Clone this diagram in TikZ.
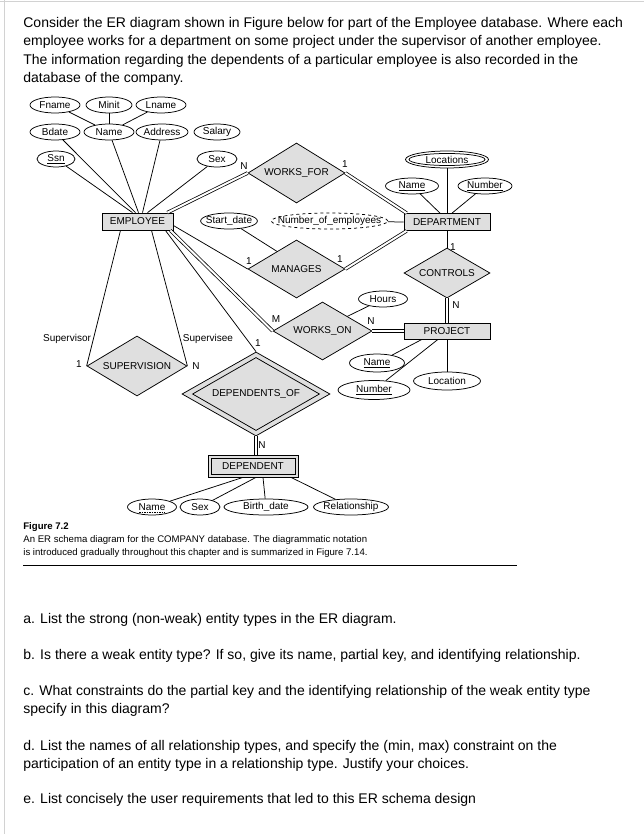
\documentclass[tikz,border=0pt]{standalone}
\usepackage{fontspec}
\setmainfont{Liberation Sans}
\usetikzlibrary{shapes.geometric,calc}
\tikzset{
  dfont/.style={font=\fontsize{10}{11}\selectfont},
  attr/.style={ellipse, draw, fill=white, inner sep=0pt, minimum height=16pt, dfont},
  ent/.style={rectangle, draw, fill=gray!25, inner sep=0pt, minimum height=17pt, dfont},
  rel/.style={diamond, draw, fill=gray!25, inner sep=0pt, aspect=1.7, dfont},
  innerline/.style={draw, inner sep=0pt},
  lbl/.style={inner sep=0pt, dfont},
  dbl/.style={double, double distance=2pt},
  bodytext/.style={anchor=base west, inner sep=0pt, font=\fontsize{14}{16}\selectfont},
  captext/.style={anchor=base west, inner sep=0pt, font=\fontsize{9.6}{11}\selectfont},
}
\begin{document}
\begin{tikzpicture}[x=1pt, y=-1pt, line width=0.75pt]
\useasboundingbox (0,0) rectangle (644,834);
\fill[white] (0,0) rectangle (644,834);
\draw[gray!35, line width=1pt] (0,1.5) -- (644,1.5);
\draw[gray!35, line width=1pt] (4,0) -- (4,834);

% body text
\node[bodytext] (t1) at (23,27.5) {Consider the ER diagram shown in Figure below for part of the Employee database. Where each};
\node[bodytext] (t2) at (23,45.8) {employee works for a department on some project under the supervisor of another employee.};
\node[bodytext] (t3) at (23,64.1) {The information regarding the dependents of a particular employee is also recorded in the};
\node[bodytext] (t4) at (23,82.4) {database of the company.};

% EMPLOYEE attributes
\node[attr, minimum width=50] (fname) at (55,105) {Fname};
\node[attr, minimum width=46] (minit) at (109,105) {Minit};
\node[attr, minimum width=50] (lname) at (161,105) {Lname};
\node[attr, minimum width=50] (bdate) at (55,132) {Bdate};
\node[attr, minimum width=50] (ename) at (109,132) {Name};
\node[attr, minimum width=52, inner xsep=-0.5pt] (addr) at (162,132) {Address};
\node[attr, minimum width=46] (salary) at (217,132) {Salary};
\node[attr, minimum width=38] (ssn) at (56,159) {\underline{Ssn}};
\node[attr, minimum width=40] (sex) at (217,159) {Sex};

\node[ent, minimum width=71] (emp) at (137.5,221.5) {EMPLOYEE};
\node[rel, minimum width=97, minimum height=60] (wf) at (296.5,173) {WORKS\_FOR};
\node[attr, minimum width=56, inner xsep=-3pt] (sdate) at (229,221) {Start\_date};
\node[attr, dashed, minimum width=112, inner xsep=-10.5pt] (noe) at (329.5,221) {Number\_of\_employees};

\node[ent, minimum width=86] (dept) at (447,222) {DEPARTMENT};
\node[attr, minimum width=83, minimum height=17] (locs) at (447,159.5) {Locations};
\node[innerline, ellipse, minimum width=76, minimum height=12] (locsin) at (locs.center) {};
\node[attr, minimum width=53] (dname) at (412,186) {\underline{Name}};
\node[attr, minimum width=54] (dnum) at (485,186) {\underline{Number}};

\node[rel, minimum width=97, minimum height=58] (mgr) at (296.5,269) {MANAGES};
\node[rel, minimum width=86, minimum height=50] (ctrl) at (447,273) {CONTROLS};
\node[ent, minimum width=86, minimum height=16] (proj) at (447,331) {PROJECT};
\node[rel, minimum width=99, minimum height=58] (won) at (322.5,331) {WORKS\_ON};
\node[attr, minimum width=49] (hours) at (383,299) {Hours};
\node[attr, minimum width=55, minimum height=18] (pname) at (377,363) {\underline{Name}};
\node[attr, minimum width=72, minimum height=19] (pnum) at (374,390) {\underline{Number}};
\node[attr, minimum width=67, minimum height=18] (ploc) at (447,381) {Location};

\node[rel, minimum width=100, minimum height=60] (sup) at (137,366) {SUPERVISION};
\node[rel, minimum width=148, minimum height=84] (dof) at (256,394) {DEPENDENTS\_OF};
\draw ([yshift=-6]dof.north) -- ([xshift=-11]dof.east) -- ([yshift=6]dof.south) -- ([xshift=11]dof.west) -- cycle;
\node[ent, minimum width=90, minimum height=22] (dep) at (253,466) {DEPENDENT};
\node[innerline, rectangle, minimum width=84, minimum height=16] (depin) at (dep.center) {};

\node[attr, minimum width=49] (dpname) at (152,507) {Name};
\node[attr, minimum width=40] (dsex) at (200,507) {Sex};
\node[attr, minimum width=84] (dbd) at (266,507) {Birth\_date};
\node[attr, minimum width=75, inner xsep=-1.5pt] (drel) at (351,507) {Relationship};
\draw[line width=0.5pt, dash pattern=on 1.5pt off 1pt] ([xshift=-13,yshift=-5]dpname.center) -- ([xshift=13,yshift=-5]dpname.center);

% composite name
\draw (fname) -- (ename);
\draw (minit) -- (ename);
\draw (lname) -- (ename);
% employee attributes
\draw (ssn) -- ([xshift=-5]emp.north);
\draw (bdate) -- ([xshift=-2]emp.north);
\draw (ename) -- ([xshift=1]emp.north);
\draw (addr) -- ([xshift=5]emp.north);
\draw (sex) -- ([xshift=10]emp.north);

% relationships of EMPLOYEE
\draw[dbl] ([xshift=-6]emp.north east) -- (wf.west);
\draw ([yshift=-4]emp.east) -- (mgr.west);
\draw[dbl] ([xshift=-3]emp.south east) -- (won.west);
\draw ([xshift=-8]emp.south east) -- (dof.north);
\draw ([xshift=-17]emp.south) -- (sup.west);
\draw ([xshift=14]emp.south) -- (sup.east);

% department
\draw[dbl] (wf.east) -- ([xshift=3]dept.north west);
\draw[dbl] (mgr.east) -- ([xshift=3]dept.south west);
\draw (sdate) -- ($(mgr.north)!0.4!(mgr.west)$);
\draw (noe) -- (dept.west);
\draw (locs) -- (dept.north);
\draw (dname) -- ([xshift=-7]dept.north);
\draw (dnum) -- ([xshift=5]dept.north);
\draw (dept.south) -- (ctrl.north);
\draw[dbl] (ctrl.south) -- (proj.north);

% project
\draw[dbl] (won.east) -- (proj.west);
\draw (hours) -- ($(won.north)!0.5!(won.east)$);
\draw (pname) -- ([xshift=-25]proj.south);
\draw (pnum) -- ([xshift=-9]proj.south);
\draw (ploc) -- (proj.south);

% dependent
\draw[dbl] (dof.south) -- ([xshift=3]dep.north);
\draw (dpname) -- ([xshift=-10]dep.south);
\draw (dsex) -- ([xshift=3]dep.south);
\draw (dbd) -- ([xshift=10]dep.south);
\draw (drel) -- ([xshift=38]dep.south);

% cardinality and role labels
\node[lbl] (lwf1) at (244,166) {N};
\node[lbl] (lwf2) at (345,164) {1};
\node[lbl] (lmg1) at (249,261) {1};
\node[lbl] (lmg2) at (340,259) {1};
\node[lbl] (lct1) at (453,247) {1};
\node[lbl] (lct2) at (456,305) {N};
\node[lbl] (lwo1) at (276,319) {M};
\node[lbl] (lwo2) at (371,321) {N};
\node[lbl] (lsu1) at (79,364) {1};
\node[lbl] (lsu2) at (196,366) {N};
\node[lbl] (lsor) at (67,339) {Supervisor};
\node[lbl] (lsee) at (208,339) {Supervisee};
\node[lbl] (ldo1) at (258,343) {1};
\node[lbl] (ldo2) at (262,445) {N};

% caption
\node[captext, font=\fontsize{9.6}{11}\selectfont\bfseries] (fig) at (23,529) {Figure 7.2};
\node[captext] (c1) at (23,542) {An ER schema diagram for the COMPANY database. The diagrammatic notation};
\node[captext] (c2) at (23,555) {is introduced gradually throughout this chapter and is summarized in Figure 7.14.};
\draw[line width=1pt] (23,565) -- (517,565);

% questions
\node[bodytext] (qa) at (23,623) {a. List the strong (non-weak) entity types in the ER diagram.};
\node[bodytext] (qb) at (23,659) {b. Is there a weak entity type? If so, give its name, partial key, and identifying relationship.};
\node[bodytext] (qc1) at (23,695) {c. What constraints do the partial key and the identifying relationship of the weak entity type};
\node[bodytext] (qc2) at (23,713) {specify in this diagram?};
\node[bodytext] (qd1) at (23,750) {d. List the names of all relationship types, and specify the (min, max) constraint on the};
\node[bodytext] (qd2) at (23,768) {participation of an entity type in a relationship type. Justify your choices.};
\node[bodytext] (qe) at (23,803) {e. List concisely the user requirements that led to this ER schema design};
\end{tikzpicture}
\end{document}
